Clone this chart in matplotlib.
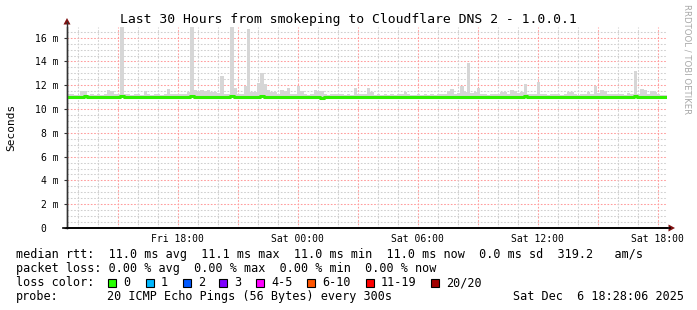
import matplotlib
matplotlib.use("Agg")
import matplotlib.pyplot as plt
from matplotlib.patches import Polygon, Rectangle
from matplotlib.lines import Line2D
import numpy as np

W, H = 697, 310

# ---------------- data ----------------
title = "Last 30 Hours from smokeping to Cloudflare DNS 2 - 1.0.0.1"
start_hour = 12 + 28 / 60 + 6 / 3600     # Fri 12:28:06, hours since Fri 00:00
span_hours = 30
step_hours = 1 / 6                      # 10 minute bins

# top of the smoke (ms)
smoke_hi = [
    11.25, 11.3, 11.2, 11.2, 11.55, 11.5, 11.2, 11.25, 11.2, 11.25, 11.2, 11.3,
    11.6, 11.55, 11.3, 11.25, 16.9, 11.3, 11.25, 11.2, 11.3, 11.3, 11.2, 11.5,
    11.25, 11.2, 11.3, 11.25, 11.2, 11.25, 11.7, 11.3, 11.25, 11.3, 11.25, 11.3,
    11.4, 16.9, 11.6, 11.55, 11.6, 11.5, 11.6, 11.4, 11.4, 11.35, 12.8, 11.3,
    11.3, 16.9, 11.8, 11.3, 11.25, 11.9, 16.7, 11.4, 11.4, 12.15, 13.05, 12.1,
    11.6, 11.4, 11.4, 11.3, 11.6, 11.55, 11.8, 11.3, 11.25, 11.9, 11.5, 11.25,
    11.2, 11.3, 11.6, 11.55, 11.5, 11.25, 11.2, 11.25, 11.3, 11.3, 11.25, 11.2,
    11.25, 11.2, 11.75, 11.3, 11.25, 11.3, 11.8, 11.4, 11.2, 11.25, 11.2, 11.25,
    11.2, 11.25, 11.2, 11.3, 11.3, 11.45, 11.25, 11.2, 11.2, 11.25, 11.2, 11.25,
    11.2, 11.25, 11.2, 11.25, 11.3, 11.3, 11.55, 11.65, 11.3, 11.35, 11.95, 11.4,
    13.9, 11.35, 11.4, 11.8, 11.3, 11.25, 11.2, 11.25, 11.3, 11.3, 11.4, 11.4,
    11.3, 11.6, 11.55, 11.35, 11.4, 12.1, 11.3, 11.25, 11.3, 12.3, 11.3, 11.25,
    11.2, 11.25, 11.3, 11.25, 11.2, 11.25, 11.45, 11.4, 11.25, 11.2, 11.25, 11.3,
    11.45, 11.3, 11.9, 11.35, 11.6, 11.55, 11.3, 11.25, 11.3, 11.3, 11.25, 11.2,
    11.35, 11.3, 13.2, 11.3, 11.65, 11.6, 11.3, 11.5, 11.45, 11.25, 11.2, 11.2,
]
# bottom of the smoke (ms)
smoke_lo = [
    10.95, 10.95, 10.95, 10.9, 10.95, 10.95, 10.95, 10.95, 10.95, 10.95, 10.95, 10.95,
    10.85, 10.85, 10.95, 10.95, 10.9, 10.95, 10.95, 10.95, 10.95, 10.95, 10.95, 10.95,
    10.95, 10.95, 10.95, 10.95, 10.95, 10.95, 10.9, 10.95, 10.95, 10.95, 10.95, 10.95,
    10.95, 10.9, 10.95, 10.95, 10.95, 10.95, 10.95, 10.95, 10.95, 10.95, 10.9, 10.95,
    10.95, 10.9, 10.95, 10.95, 10.95, 10.95, 10.9, 10.95, 10.95, 10.95, 10.9, 10.95,
    10.95, 10.95, 10.95, 10.95, 10.95, 10.95, 10.95, 10.95, 10.95, 10.9, 10.95, 10.95,
    10.95, 10.95, 10.95, 10.9, 10.85, 10.95, 10.95, 10.95, 10.95, 10.95, 10.95, 10.95,
    10.95, 10.95, 10.95, 10.95, 10.95, 10.95, 10.95, 10.95, 10.95, 10.95, 10.95, 10.95,
    10.95, 10.95, 10.95, 10.95, 10.95, 10.95, 10.95, 10.95, 10.95, 10.95, 10.95, 10.95,
    10.95, 10.95, 10.95, 10.95, 10.95, 10.95, 10.9, 10.9, 10.95, 10.95, 10.9, 10.95,
    10.9, 10.95, 10.95, 10.95, 10.95, 10.95, 10.95, 10.95, 10.95, 10.95, 10.95, 10.95,
    10.95, 10.95, 10.95, 10.95, 10.95, 10.95, 10.95, 10.95, 10.95, 10.95, 10.95, 10.95,
    10.95, 10.95, 10.95, 10.95, 10.95, 10.95, 10.95, 10.95, 10.95, 10.95, 10.95, 10.95,
    10.95, 10.95, 10.95, 10.95, 10.95, 10.95, 10.95, 10.95, 10.95, 10.95, 10.95, 10.95,
    10.95, 10.95, 10.95, 10.95, 10.95, 10.95, 10.95, 10.95, 10.95, 10.95, 10.95, 10.95,
]
# median rtt (ms)
median_rtt = [
    11.05, 11.05, 11.0, 11.05, 11.05, 11.1, 11.05, 11.05, 11.0, 11.0, 11.05, 11.05,
    11.0, 11.05, 11.05, 11.05, 11.1, 11.05, 11.0, 11.05, 11.05, 11.05, 11.0, 11.05,
    11.05, 11.05, 11.0, 11.0, 11.05, 11.05, 11.05, 11.05, 11.0, 11.05, 11.05, 11.05,
    11.05, 11.1, 11.05, 11.05, 11.0, 11.05, 11.05, 11.05, 11.05, 11.0, 11.05, 11.05,
    11.05, 11.1, 11.05, 11.05, 11.05, 11.0, 11.05, 11.05, 11.05, 11.05, 11.1, 11.05,
    11.05, 11.0, 11.0, 11.05, 11.05, 11.05, 11.05, 11.05, 11.0, 11.05, 11.05, 11.05,
    11.05, 11.05, 11.0, 11.05, 10.95, 11.0, 11.05, 11.05, 11.05, 11.0, 11.05, 11.05,
    11.05, 11.05, 11.0, 11.05, 11.05, 11.05, 11.05, 11.0, 11.0, 11.05, 11.05, 11.05,
    11.05, 11.05, 11.05, 11.0, 11.05, 11.05, 11.05, 11.05, 11.0, 11.05, 11.05, 11.05,
    11.05, 11.05, 11.05, 11.05, 11.0, 11.05, 11.05, 11.0, 11.05, 11.05, 11.05, 11.05,
    11.05, 11.05, 11.0, 11.05, 11.05, 11.05, 11.05, 11.0, 11.05, 11.05, 11.05, 11.05,
    11.05, 11.05, 11.0, 11.05, 11.05, 11.1, 11.05, 11.05, 11.0, 11.05, 11.05, 11.05,
    11.05, 11.0, 11.05, 11.05, 11.05, 11.05, 11.05, 11.0, 11.05, 11.05, 11.05, 11.05,
    11.05, 11.05, 11.05, 11.05, 11.05, 11.05, 11.0, 11.05, 11.05, 11.05, 11.05, 11.05,
    11.05, 11.05, 11.1, 11.05, 11.05, 11.05, 11.05, 11.0, 11.05, 11.05, 11.05, 11.05,
]

x_tick_hours = [18, 24, 30, 36, 42]
x_tick_labels = ["Fri 18:00", "Sat 00:00", "Sat 06:00", "Sat 12:00", "Sat 18:00"]
y_ticks = [0, 2, 4, 6, 8, 10, 12, 14, 16]
y_tick_labels = ["0  ", "2 m", "4 m", "6 m", "8 m", "10 m", "12 m", "14 m", "16 m"]

legend_rtt = "median rtt:  11.0 ms avg  11.1 ms max  11.0 ms min  11.0 ms now  0.0 ms sd  319.2   am/s"
legend_loss = "packet loss: 0.00 % avg  0.00 % max  0.00 % min  0.00 % now"
loss_labels = ["0", "1", "2", "3", "4-5", "6-10", "11-19", "20/20"]
loss_colors = ["#26ff00", "#00b8ff", "#0059ff", "#7e00ff", "#ff00ff", "#ff5500", "#ff0000", "#a10000"]
probe_text = "20 ICMP Echo Pings (56 Bytes) every 300s"
date_text = "Sat Dec  6 18:28:06 2025"

# ---------------- figure ----------------
mono = "DejaVu Sans Mono"
fig = plt.figure(figsize=(W / 100, H / 100), dpi=100)
fig.patch.set_facecolor("white")

def fx(x):
    return x / W

def fy(y):
    return 1 - y / H

left, right, top, bottom = 67, 667, 27, 228
ax = fig.add_axes([fx(left), fy(bottom), (right - left) / W, (bottom - top) / H])
ax.set_facecolor("white")

t = start_hour + np.arange(len(smoke_hi) + 1) * step_hours
hi = np.append(smoke_hi, smoke_hi[-1])
lo = np.append(smoke_lo, smoke_lo[-1])
md = np.append(median_rtt, median_rtt[-1])

ymax = 16.9
ax.set_xlim(start_hour, start_hour + span_hours)
ax.set_ylim(0, ymax)

# grid
dash = (0, (1.6, 1.6))
for hgt in np.arange(0.5, ymax, 0.5):
    if abs(hgt % 2) < 1e-9:
        ax.axhline(hgt, color="#ff9c9c", lw=0.75, ls=dash, zorder=1)
    else:
        ax.axhline(hgt, color="#cfcfcf", lw=0.75, ls=dash, zorder=1)
for hr in range(13, 43):
    if hr % 3 == 0:
        ax.axvline(hr, color="#ff9c9c", lw=0.75, ls=dash, zorder=1)
    else:
        ax.axvline(hr, color="#cfcfcf", lw=0.75, ls=dash, zorder=1)

# smoke and median
ax.fill_between(t, lo, hi, step="post", color="#d6d6d6", lw=0, zorder=2)
ax.step(t, md, where="post", color="#30f000", lw=2.2, zorder=3)

# axes styling
for s in ["top", "right"]:
    ax.spines[s].set_visible(False)
ax.spines["left"].set_color("#333333")
ax.spines["bottom"].set_color("#000000")
ax.spines["left"].set_linewidth(1.0)
ax.spines["bottom"].set_linewidth(1.2)

ax.set_xticks(x_tick_hours)
ax.set_xticklabels(x_tick_labels, fontfamily=mono, fontsize=7)
ax.tick_params(axis="x", length=0, pad=4.5, colors="#000000")
ax.set_yticks(y_ticks)
ax.set_yticklabels(y_tick_labels, fontfamily=mono, fontsize=7)
ax.tick_params(axis="y", length=2.5, width=0.8, pad=3.5, colors="#333333")
for lab in ax.get_yticklabels() + ax.get_xticklabels():
    lab.set_color("#000000")

# axis extension lines and arrows
fig.add_artist(Line2D([fx(67), fx(67)], [fy(228), fy(22)], color="#333333", lw=1.0))
fig.add_artist(Line2D([fx(63), fx(670)], [fy(228), fy(228)], color="#000000", lw=1.2))
fig.add_artist(Polygon([[fx(63.5), fy(24.5)], [fx(70.5), fy(24.5)], [fx(67), fy(18)]],
                       closed=True, color="#7f1010", lw=0))
fig.add_artist(Polygon([[fx(668.5), fy(224.5)], [fx(668.5), fy(231.5)], [fx(675), fy(228)]],
                       closed=True, color="#7f1010", lw=0))

# texts
fig.text(fx(348), fy(19), title, fontfamily=mono, fontsize=9.45, ha="center", va="center")
fig.text(fx(11), fy(127), "Seconds", fontfamily=mono, fontsize=8, rotation=90,
         ha="center", va="center")
fig.text(fx(687), fy(59), "RRDTOOL / TOBI OETIKER", fontfamily="DejaVu Sans", fontsize=6.1,
         rotation=270, ha="center", va="center", color="#a8a8a8")

lfs = 8.5
fig.text(fx(16), fy(254.5), legend_rtt, fontfamily=mono, fontsize=lfs, va="center", ha="left")
fig.text(fx(16), fy(268.5), legend_loss, fontfamily=mono, fontsize=lfs, va="center", ha="left")
fig.text(fx(16), fy(282.5), "loss color:", fontfamily=mono, fontsize=lfs, va="center", ha="left")
box_x = [108, 146, 183, 219, 256, 307, 366, 431]
for bx, lab, col in zip(box_x, loss_labels, loss_colors):
    fig.add_artist(Rectangle((fx(bx), fy(286.5)), 8 / W, 8 / H, facecolor=col,
                             edgecolor="#000000", lw=0.8))
    fig.text(fx(bx + 15), fy(282.5), lab, fontfamily=mono, fontsize=lfs, va="center", ha="left")
fig.text(fx(16), fy(296.5), "probe:", fontfamily=mono, fontsize=lfs, va="center", ha="left")
fig.text(fx(107), fy(296.5), probe_text, fontfamily=mono, fontsize=lfs, va="center", ha="left")
fig.text(fx(513), fy(296.5), date_text, fontfamily=mono, fontsize=lfs, va="center", ha="left")

fig.savefig("out.png", dpi=100, facecolor="white")
